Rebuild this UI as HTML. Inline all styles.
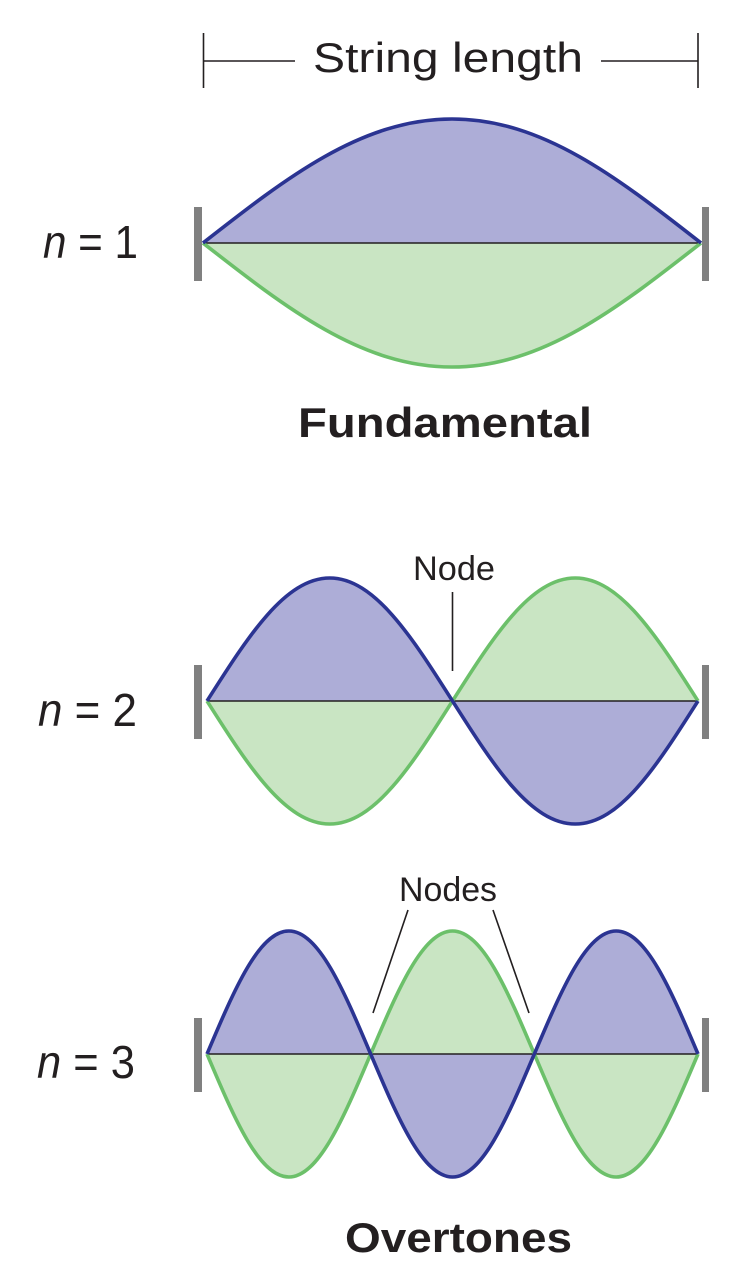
<!DOCTYPE html>
<html>
<head>
<meta charset="utf-8">
<style>
html,body{margin:0;padding:0;background:#fff;}
svg{display:block;}
text{font-family:"Liberation Sans",Arial,sans-serif;fill:#231f20;}
</style>
</head>
<body>
<svg width="743" height="1280" viewBox="0 0 743 1280" xmlns="http://www.w3.org/2000/svg">
<rect width="743" height="1280" fill="#fff"/>

<!-- String length bracket -->
<g stroke="#231f20" stroke-width="1.6" fill="none">
  <line x1="203.5" y1="33" x2="203.5" y2="88"/>
  <line x1="698" y1="33" x2="698" y2="88"/>
  <line x1="203.5" y1="61" x2="295" y2="61"/>
  <line x1="601" y1="61" x2="698" y2="61"/>
</g>
<text x="313" y="72" font-size="42" textLength="270" lengthAdjust="spacingAndGlyphs">String length</text>

<!-- n = 1 -->
<text x="43" y="258" font-size="46" textLength="95" lengthAdjust="spacingAndGlyphs"><tspan font-style="italic">n</tspan> = 1</text>
<path d="M203,243 C286.24,177.89 361.51,119 452,119 C542.49,119 617.76,177.89 701,243 Z" fill="#adadd7"/>
<path d="M203,243 C286.24,308.11 361.51,367 452,367 C542.49,367 617.76,308.11 701,243 Z" fill="#c9e5c3"/>
<line x1="203" y1="243" x2="701" y2="243" stroke="#231f20" stroke-width="1.6"/>
<path d="M203,243 C286.24,308.11 361.51,367 452,367 C542.49,367 617.76,308.11 701,243" fill="none" stroke="#6cc06a" stroke-width="3.6"/>
<path d="M203,243 C286.24,177.89 361.51,119 452,119 C542.49,119 617.76,177.89 701,243" fill="none" stroke="#2b3492" stroke-width="3.6"/>
<rect x="194" y="207" width="8" height="74" fill="#808080"/>
<rect x="702" y="207" width="7" height="74" fill="#808080"/>

<text x="298" y="437" font-size="42" font-weight="bold" textLength="294" lengthAdjust="spacingAndGlyphs">Fundamental</text>

<!-- n = 2 -->
<text x="38" y="726" font-size="46" textLength="99" lengthAdjust="spacingAndGlyphs"><tspan font-style="italic">n</tspan> = 2</text>
<text x="413" y="580" font-size="34" textLength="82" lengthAdjust="spacingAndGlyphs">Node</text>
<line x1="452.5" y1="592" x2="452.5" y2="671" stroke="#231f20" stroke-width="1.6"/>
<path d="M207,701 C248.04,636.41 285.14,578 329.75,578 C374.36,578 411.46,636.41 452.5,701 C493.54,765.59 530.64,824 575.25,824 C619.86,824 656.96,765.59 698,701 Z" fill="#adadd7"/>
<path d="M207,701 C248.04,765.59 285.14,824 329.75,824 C374.36,824 411.46,765.59 452.5,701 C493.54,636.41 530.64,578 575.25,578 C619.86,578 656.96,636.41 698,701 Z" fill="#c9e5c3"/>
<line x1="207" y1="701" x2="698" y2="701" stroke="#231f20" stroke-width="1.6"/>
<path d="M207,701 C248.04,765.59 285.14,824 329.75,824 C374.36,824 411.46,765.59 452.5,701 C493.54,636.41 530.64,578 575.25,578 C619.86,578 656.96,636.41 698,701" fill="none" stroke="#6cc06a" stroke-width="3.6"/>
<path d="M207,701 C248.04,636.41 285.14,578 329.75,578 C374.36,578 411.46,636.41 452.5,701 C493.54,765.59 530.64,824 575.25,824 C619.86,824 656.96,765.59 698,701" fill="none" stroke="#2b3492" stroke-width="3.6"/>
<rect x="194" y="665" width="8" height="74" fill="#808080"/>
<rect x="702" y="665" width="7" height="74" fill="#808080"/>

<!-- n = 3 -->
<text x="37" y="1078" font-size="46" textLength="98" lengthAdjust="spacingAndGlyphs"><tspan font-style="italic">n</tspan> = 3</text>
<text x="399" y="901" font-size="34" textLength="98" lengthAdjust="spacingAndGlyphs">Nodes</text>
<line x1="408" y1="910" x2="373" y2="1013" stroke="#231f20" stroke-width="1.6"/>
<line x1="493" y1="910" x2="529" y2="1013" stroke="#231f20" stroke-width="1.6"/>
<path d="M207,1054 C234.36,989.41 259.09,931 288.83,931 C318.57,931 343.31,989.41 370.67,1054 C398.03,1118.59 422.76,1177 452.5,1177 C482.24,1177 506.98,1118.59 534.33,1054 C561.69,989.41 586.42,931 616.17,931 C645.91,931 670.65,989.41 698,1054 Z" fill="#adadd7"/>
<path d="M207,1054 C234.36,1118.59 259.09,1177 288.83,1177 C318.57,1177 343.31,1118.59 370.67,1054 C398.03,989.41 422.76,931 452.5,931 C482.24,931 506.98,989.41 534.33,1054 C561.69,1118.59 586.42,1177 616.17,1177 C645.91,1177 670.65,1118.59 698,1054 Z" fill="#c9e5c3"/>
<line x1="207" y1="1054" x2="698" y2="1054" stroke="#231f20" stroke-width="1.6"/>
<path d="M207,1054 C234.36,1118.59 259.09,1177 288.83,1177 C318.57,1177 343.31,1118.59 370.67,1054 C398.03,989.41 422.76,931 452.5,931 C482.24,931 506.98,989.41 534.33,1054 C561.69,1118.59 586.42,1177 616.17,1177 C645.91,1177 670.65,1118.59 698,1054" fill="none" stroke="#6cc06a" stroke-width="3.6"/>
<path d="M207,1054 C234.36,989.41 259.09,931 288.83,931 C318.57,931 343.31,989.41 370.67,1054 C398.03,1118.59 422.76,1177 452.5,1177 C482.24,1177 506.98,1118.59 534.33,1054 C561.69,989.41 586.42,931 616.17,931 C645.91,931 670.65,989.41 698,1054" fill="none" stroke="#2b3492" stroke-width="3.6"/>
<rect x="194" y="1018" width="8" height="74" fill="#808080"/>
<rect x="702" y="1018" width="7" height="74" fill="#808080"/>

<text x="345" y="1252" font-size="42" font-weight="bold" textLength="227" lengthAdjust="spacingAndGlyphs">Overtones</text>
</svg>
</body>
</html>
